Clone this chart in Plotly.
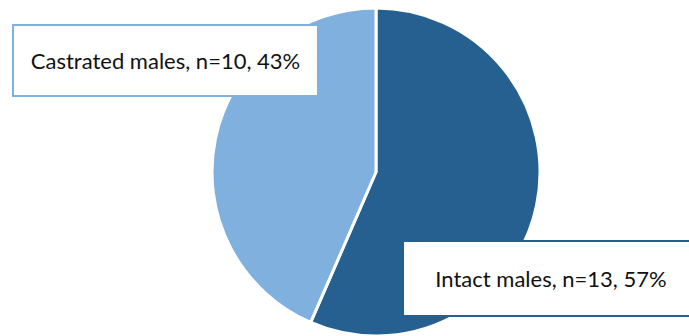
import plotly.graph_objects as go

# Group sizes
groups = ["Intact males", "Castrated males"]
counts = [13, 10]
colors = ["#266091", "#7FB0DE"]

W, H = 689, 336
total = sum(counts)
labels_txt = [f"{g}, n={c}, {round(100 * c / total)}%" for g, c in zip(groups, counts)]

fig = go.Figure(
    go.Pie(
        labels=groups,
        values=counts,
        sort=False,
        direction="clockwise",
        rotation=0,
        marker=dict(colors=colors, line=dict(color="white", width=3)),
        textinfo="none",
        hoverinfo="label+value+percent",
        showlegend=False,
        domain=dict(x=[63 / W, 1], y=[0, 1 - 8 / H]),
    )
)

# Callout boxes: (center x px, center y px, width px, height px, border colour)
boxes = [
    (165.5, 60.5, 303, 69, colors[1], labels_txt[1]),
    (551, 278.5, 294, 73, colors[0], labels_txt[0]),
]
for cx, cy, bw, bh, bc, txt in boxes:
    fig.add_annotation(
        x=cx / W, y=1 - cy / H, xref="paper", yref="paper",
        xanchor="center", yanchor="middle",
        text=txt, showarrow=False,
        width=bw, height=bh, borderpad=0, borderwidth=2,
        bordercolor=bc, bgcolor="white",
        font=dict(family="Lato", size=22, color="#111111"),
        align="center", valign="middle",
    )

fig.update_layout(
    width=W, height=H,
    margin=dict(l=0, r=0, t=0, b=0),
    paper_bgcolor="white", plot_bgcolor="white",
)

fig.write_html("out.html")
